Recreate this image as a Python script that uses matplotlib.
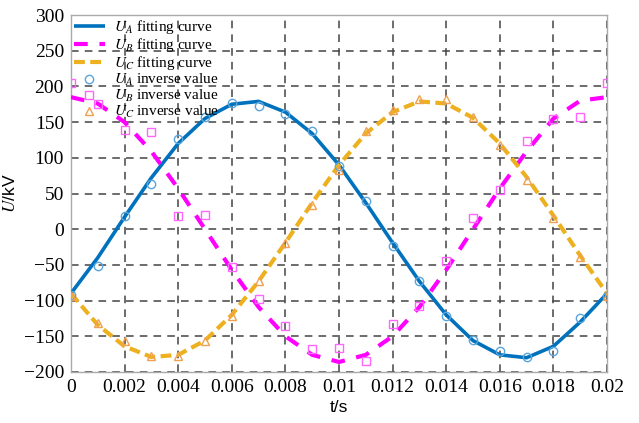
import matplotlib
matplotlib.use("Agg")
import matplotlib.pyplot as plt
import numpy as np

t = [0, 0.001, 0.002, 0.003, 0.004, 0.005, 0.006, 0.007, 0.008, 0.009, 0.010,
     0.011, 0.012, 0.013, 0.014, 0.015, 0.016, 0.017, 0.018, 0.019, 0.020]

ua_fit = [-90, -40, 17, 72, 120, 155, 175, 179, 164, 134, 90, 37, -19, -73, -120,
          -156, -176, -180, -164, -130, -90]
ub_fit = [185, 176, 150, 109, 57, 0, -57, -109, -150, -176, -186, -176, -150, -109,
          -57, 0, 57, 109, 155, 180, 185]
uc_fit = [-90, -134, -164, -179, -176, -156, -120, -73, -19, 37, 90, 134, 164, 179,
          176, 156, 120, 73, 19, -37, -90]

ua_inv = [-92, -51, 19, 63, 126, 157, 177, 172, 162, 138, 88, 40, -23, -72, -122,
          -155, -171, -179, -171, -125, -93]
ub_inv = [205, 175, 139, 136, 19, 20, -53, -98, -135, -168, -167, -185, -133, -107,
          -45, 15, 55, 123, 155, 157, 205]
uc_inv = [-93, -132, -157, -178, -178, -157, -121, -73, -20, 34, 83, 138, 167, 182,
          182, 157, 118, 69, 15, -39, -93]

xticks = [0, 0.002, 0.004, 0.006, 0.008, 0.010, 0.012, 0.014, 0.016, 0.018, 0.020]
xtick_labels = ["0", "0.002", "0.004", "0.006", "0.008", "0.01", "0.012", "0.014",
                "0.016", "0.018", "0.02"]
yticks = [-200, -150, -100, -50, 0, 50, 100, 150, 200, 250, 300]

plt.rcParams['mathtext.fontset'] = 'stix'
serif = ['Liberation Serif', 'DejaVu Serif']

fig = plt.figure(figsize=(6.39, 4.23), dpi=100)
ax = fig.add_axes([0.111, 0.1206, 0.839, 0.8439])

c_a = '#0072BD'
c_b = '#FF00FF'
c_c = '#EDB120'

ax.plot(t, ua_fit, color=c_a, lw=2.6, solid_capstyle='butt', label=r'$U_A$ fitting curve', zorder=3)
ax.plot(t, ub_fit, color=c_b, lw=3.0, dashes=(3.3, 2.8), label=r'$U_B$ fitting curve', zorder=3)
ax.plot(t, uc_fit, color=c_c, lw=3.0, dashes=(2.6, 1.3), label=r'$U_C$ fitting curve', zorder=3)
ax.plot(t, ua_inv, ls='none', marker='o', ms=6, mfc='none', mec='#5AA5DC', mew=1.0,
        label=r'$U_A$ inverse value', zorder=4)
ax.plot(t, ub_inv, ls='none', marker='s', ms=5.5, mfc='none', mec='#FF66FF', mew=1.0,
        label=r'$U_B$ inverse value', zorder=4)
ax.plot(t, uc_inv, ls='none', marker='^', ms=6, mfc='none', mec='#F0A050', mew=1.0,
        label=r'$U_C$ inverse value', zorder=4)

ax.set_xlim(0, 0.02)
ax.set_ylim(-200, 300)
ax.set_xticks(xticks)
ax.set_xticklabels(xtick_labels)
ax.set_yticks(yticks)
ax.tick_params(length=0, labelsize=14, pad=5)
for lab in ax.get_xticklabels() + ax.get_yticklabels():
    lab.set_family(serif)

ax.grid(True, color='#444444', ls=(0, (5, 4)), lw=1.1)
for s in ax.spines.values():
    s.set_color('#aaaaaa')
    s.set_linewidth(1.0)

ax.set_xlabel('t/s', fontsize=12.5, family=['Liberation Sans', 'DejaVu Sans'], labelpad=3)
ax.set_ylabel(r'$\mathit{U}$/kV', fontsize=12.5, family=['Liberation Sans', 'DejaVu Sans'], labelpad=4)

leg = ax.legend(loc='upper left', frameon=False, prop={'family': serif, 'size': 11},
                labelspacing=0.0, handlelength=2.0, handletextpad=0.6,
                borderaxespad=0.1, borderpad=0.1)

fig.savefig('out.png', dpi=100)
